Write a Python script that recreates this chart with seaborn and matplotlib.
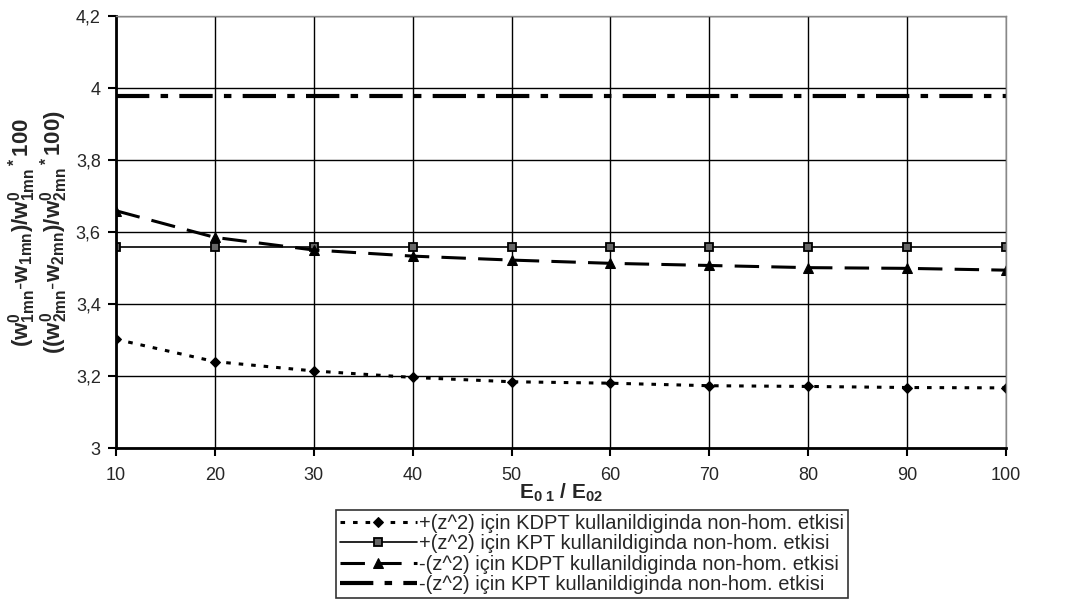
import matplotlib
matplotlib.use("Agg")
import matplotlib.pyplot as plt
import seaborn as sns
import pandas as pd
from matplotlib.ticker import FuncFormatter

ratio = [10, 20, 30, 40, 50, 60, 70, 80, 90, 100]
plus_kdpt = [3.302, 3.240, 3.214, 3.196, 3.184, 3.180, 3.173, 3.171, 3.168, 3.167]
plus_kpt = [3.558, 3.558, 3.558, 3.558, 3.558, 3.558, 3.558, 3.558, 3.558, 3.558]
minus_kdpt = [3.659, 3.585, 3.550, 3.533, 3.522, 3.513, 3.507, 3.501, 3.499, 3.494]
minus_kpt = [3.979, 3.979, 3.979, 3.979, 3.979, 3.979, 3.979, 3.979, 3.979, 3.979]
labels = [
    "+(z^2) için KDPT kullanildiginda non-hom. etkisi",
    "+(z^2) için KPT kullanildiginda non-hom. etkisi",
    "-(z^2) için KDPT kullanildiginda non-hom. etkisi",
    "-(z^2) için KPT kullanildiginda non-hom. etkisi",
]
yticks = [3.0, 3.2, 3.4, 3.6, 3.8, 4.0, 4.2]

sns.set_style("white")
plt.rcParams['font.family'] = ['Liberation Sans', 'DejaVu Sans']
plt.rcParams['mathtext.fontset'] = 'custom'
plt.rcParams['mathtext.rm'] = 'Liberation Sans'
plt.rcParams['mathtext.it'] = 'Liberation Sans'
plt.rcParams['mathtext.bf'] = 'Liberation Sans:bold'

fig = plt.figure(figsize=(10.88, 6.03), dpi=100)
ax = fig.add_axes([116/1088, 1-448/603, (1006-116)/1088, (448-16)/603])

series = [plus_kdpt, plus_kpt, minus_kdpt, minus_kpt]
styles = [
    dict(marker="D", markersize=5.5, lw=2.2, dashes=(1.5, 2.6), mec="black", mfc="black"),
    dict(marker="s", markersize=5.5, lw=1.2, dashes=(None, None), mec="black", mfc="#666666", mew=1.3),
    dict(marker="^", markersize=7, lw=2.2, dashes=(8, 4), mec="black", mfc="black"),
    dict(marker=None, lw=3.0, dashes=(8, 2.7, 1.8, 2.7), mec="black", mfc="black"),
]
for vals, lab, st in zip(series, labels, styles):
    d = dict(st)
    dashes = d.pop("dashes")
    lw = d.pop("lw")
    sns.lineplot(x=ratio, y=vals, color="black", linewidth=lw, label=lab, ax=ax, **d)
    ln = ax.lines[-1]
    if dashes != (None, None):
        ln.set_dashes(dashes)
    else:
        ln.set_linestyle("-")

ax.set_xlim(10, 100)
ax.set_ylim(3.0, 4.2)
ax.set_xticks(ratio)
ax.set_yticks(yticks)
ax.yaxis.set_major_formatter(FuncFormatter(lambda v, p: f"{v:.1f}".rstrip("0").rstrip(".").replace(".", ",")))
ax.grid(True, color="black", linewidth=1.0)
ax.set_axisbelow(True)
for s in ["top", "right"]:
    ax.spines[s].set_color("#888888")
    ax.spines[s].set_linewidth(1.0)
for s in ["left", "bottom"]:
    ax.spines[s].set_color("black")
    ax.spines[s].set_linewidth(2.0)
ax.tick_params(axis="both", direction="out", length=6, width=1.5, color="black",
               labelsize=13, left=True, bottom=True)
ax.tick_params(axis="y", pad=5)
ax.tick_params(axis="x", pad=8)

ax.set_xlabel(r"$\mathbf{E_{0\ 1}\ /\ E_{02}}$", fontsize=15, labelpad=-2)
ax.set_ylabel(r"$\mathbf{(w^0_{1mn}\text{-}w_{1mn})/w^0_{1mn}{}^*100}$" + "\n" +
              r"$\mathbf{((w^0_{2mn}\text{-}w_{2mn})/w^0_{2mn}{}^*100)}$",
              fontsize=16, labelpad=4, linespacing=1.0)

leg = ax.legend(loc="center", bbox_to_anchor=(592/1088, 1-554/603), bbox_transform=fig.transFigure,
                frameon=True, fancybox=False, edgecolor="black", fontsize=14.5,
                handlelength=3.8, handletextpad=0.1, borderpad=0.2, borderaxespad=0,
                labelspacing=0.08)
leg.get_frame().set_linewidth(1.2)

fig.savefig("out.png", dpi=100)
